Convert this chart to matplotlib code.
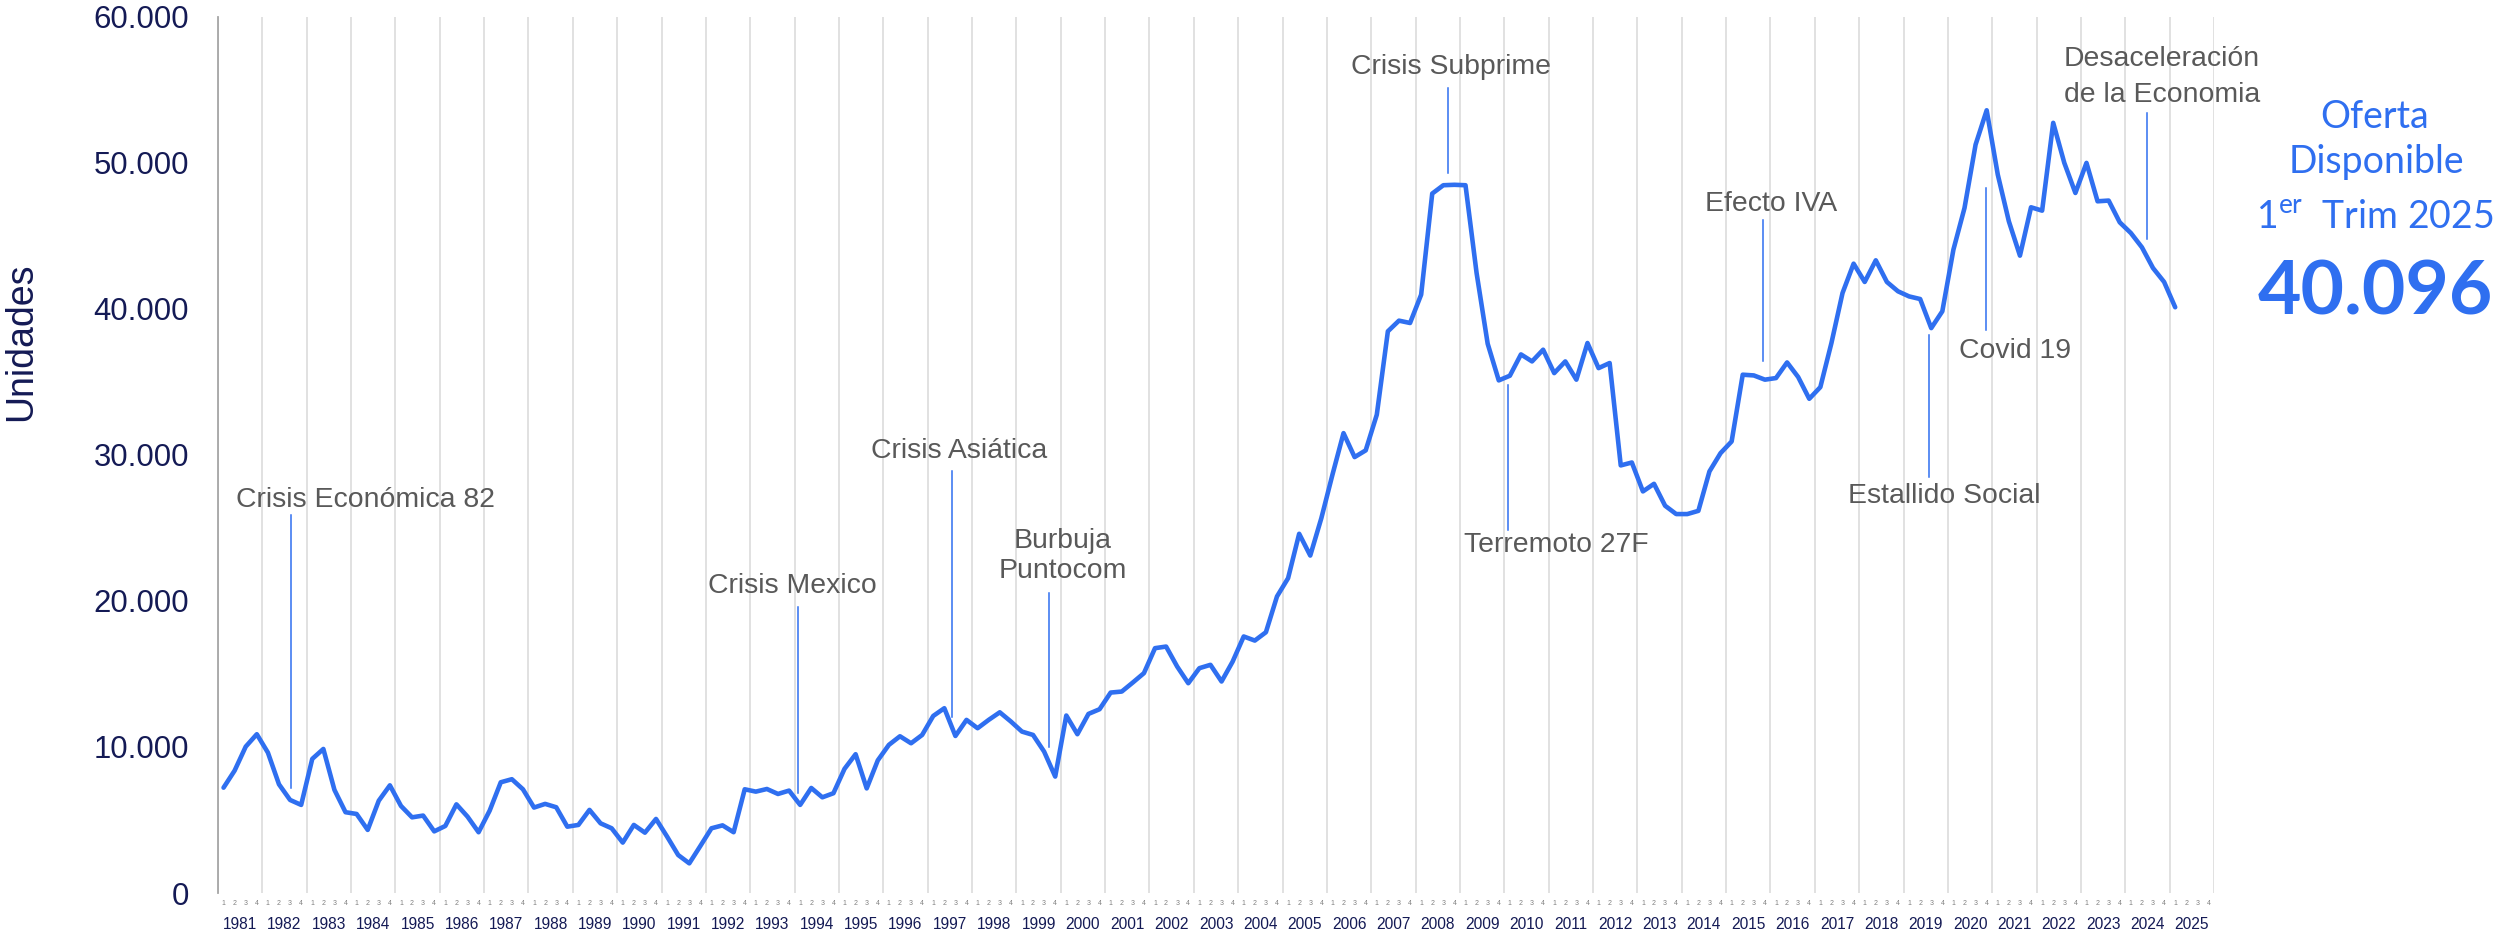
import matplotlib
matplotlib.use("Agg")
import matplotlib.pyplot as plt
from matplotlib import font_manager as fm
from matplotlib.ticker import FuncFormatter, FixedLocator

# ── Data ──────────────────────────────────────────────────────────────────────
years    = list(range(1981, 2026))
quarters = ["1", "2", "3", "4"]

# Oferta disponible (unidades), trimestral 1981 T1 .. 2025 T1
oferta = [
    7210, 8380, 10020, 10870,    # 1981
    9610, 7440, 6370, 6030,      # 1982
    9180, 9860, 7060, 5530,      # 1983
    5410, 4320, 6320, 7370,      # 1984
    5960, 5180, 5300, 4220,      # 1985
    4590, 6070, 5230, 4160,      # 1986
    5640, 7580, 7790, 7100,      # 1987
    5850, 6100, 5870, 4540,      # 1988
    4660, 5690, 4770, 4430,      # 1989
    3450, 4660, 4130, 5070,      # 1990
    3860, 2600, 2030, 3220,      # 1991
    4430, 4630, 4160, 7100,      # 1992
    6940, 7120, 6780, 7010,      # 1993
    6030, 7190, 6550, 6830,      # 1994
    8500, 9500, 7160, 9080,      # 1995
    10140, 10730, 10250, 10820,  # 1996
    12120, 12650, 10750, 11850,  # 1997
    11280, 11850, 12370, 11740,  # 1998
    11050, 10820, 9680, 7970,    # 1999
    12150, 10870, 12260, 12580,  # 2000
    13720, 13790, 14410, 15050,  # 2001
    16760, 16870, 15500, 14360,  # 2002
    15390, 15620, 14480, 15840,  # 2003
    17560, 17280, 17850, 20300,  # 2004
    21550, 24590, 23100, 25660,  # 2005
    28630, 31480, 29840, 30300,  # 2006
    32740, 38450, 39180, 39020,  # 2007
    40960, 47880, 48450, 48480,  # 2008
    48450, 42440, 37600, 35090,  # 2009
    35410, 36870, 36390, 37190,  # 2010
    35590, 36390, 35140, 37650,  # 2011
    35930, 36280, 29270, 29470,  # 2012
    27490, 28010, 26510, 25940,  # 2013
    25940, 26160, 28860, 30110,  # 2014
    30910, 35480, 35430, 35140,  # 2015
    35250, 36320, 35320, 33830,  # 2016
    34630, 37650, 41070, 43080,  # 2017
    41830, 43310, 41830, 41190,  # 2018
    40840, 40660, 38670, 39820,  # 2019
    44040, 46890, 51230, 53580,  # 2020
    49180, 45980, 43630, 46940,  # 2021
    46710, 52720, 49980, 47920,  # 2022
    49980, 47350, 47400, 45910,  # 2023
    45180, 44200, 42780, 41830,  # 2024
    40096,                       # 2025
]

events = ["Crisis Económica 82", "Crisis Mexico", "Crisis Asiática",
          "Burbuja\nPuntocom", "Crisis Subprime", "Terremoto 27F",
          "Efecto IVA", "Estallido Social", "Covid 19",
          "Desaceleración\nde la Economia"]

# ── Layout of the event callouts (quarter index / units) ─────────────────────
# (pointer x, pointer top, pointer bottom, text x, text y, linespacing)
event_layout = [
    (6.1,   25890, 7190,  12.8,  26920, 1.2),
    (51.8,  19590, 6850,  51.3,  21030, 1.2),
    (65.7,  28920, 12080, 66.3,  30290, 1.2),
    (74.4,  20520, 10020, 75.7,  23060, 1.2),
    (110.4, 55110, 49290, 110.7, 56550, 1.2),
    (115.8, 34790, 24860, 120.2, 23840, 1.2),
    (138.8, 46090, 36390, 139.6, 47190, 1.2),
    (153.8, 38220, 28510, 155.2, 27190, 1.2),
    (158.9, 48260, 38560, 161.6, 37070, 1.2),
    (173.5, 53400, 44750, 174.8, 55850, 1.47),
]

BLUE  = "#2f6ff0"
NAVY  = "#141a55"
GREY  = "#595959"

names = {f.name for f in fm.fontManager.ttflist}
has_narrow = "Liberation Sans Narrow" in names
NARROW = "Liberation Sans Narrow" if has_narrow else "Liberation Sans"

plt.rcParams["mathtext.fontset"] = "custom"
plt.rcParams["mathtext.rm"] = "Lato"

fig = plt.figure(figsize=(24.96, 9.33), dpi=100, facecolor="white")
ax = fig.add_axes([0.08734, 0.04287, 0.79968, 0.93944])

n_slots = len(years) * 4
ax.set_xlim(-0.5, n_slots - 0.5)
ax.set_ylim(0, 60000)

# year gridlines
for k in range(len(years) + 1):
    ax.axvline(-0.5 + 4 * k, color="#d9d9d9", lw=1.1, zorder=0)

ax.plot(range(len(oferta)), oferta, color=BLUE, lw=3.3,
        solid_joinstyle="round", solid_capstyle="round", zorder=3)

# callouts
for label, (px, top, bot, tx, ty, ls) in zip(events, event_layout):
    ax.plot([px, px], [bot, top], color=BLUE, lw=1.1, zorder=2)
    ax.text(tx, ty, label, ha="center", va="center", fontsize=20.4,
            color=GREY, family="Liberation Sans", linespacing=ls)

# spines / ticks
for s in ["top", "right", "bottom"]:
    ax.spines[s].set_visible(False)
ax.spines["left"].set_color("#a6a6a6")
ax.spines["left"].set_linewidth(1.3)

ax.yaxis.set_major_locator(FixedLocator(range(0, 60001, 10000)))
ax.yaxis.set_major_formatter(FuncFormatter(lambda v, p: f"{int(v):,}".replace(",", ".")))
ax.tick_params(axis="y", length=0, pad=21, labelsize=22.4, labelcolor=NAVY)
for lbl in ax.get_yticklabels():
    lbl.set_family("Liberation Sans")
ax.set_xticks([])

# quarter + year labels under the axis
year_size = 13.4 if has_narrow else 11.2
trans = ax.get_xaxis_transform()
for yi, yr in enumerate(years):
    for qi, q in enumerate(quarters):
        ax.text(4 * yi + qi, -0.0115, q, transform=trans, ha="center", va="center",
                fontsize=5, color="#808080", family="Liberation Sans", clip_on=False)
    ax.text(4 * yi + 1.5, -0.0354, str(yr), transform=trans, ha="center", va="center",
            fontsize=year_size, color=NAVY, family=NARROW, clip_on=False)

fig.text(0.0084, 0.6334, "Unidades", rotation=90, ha="center", va="center",
         fontsize=31 if has_narrow else 27, color=NAVY, family=NARROW)

# right side summary
fig.text(0.9515, 1 - 116.7 / 933, "Oferta", ha="center", va="center",
         fontsize=27, color=BLUE, family="Lato")
fig.text(0.9522, 1 - 161.7 / 933, "Disponible", ha="center", va="center",
         fontsize=27, color=BLUE, family="Lato")
fig.text(0.9515, 1 - 216.7 / 933, r"1$^{\mathrm{er}}$  Trim 2025", ha="center",
         va="center", fontsize=27, color=BLUE, family="Lato")
fig.text(0.9515, 1 - 293.3 / 933, "40.096", ha="center", va="center",
         fontsize=54, color=BLUE, family="Lato", fontweight="bold")

fig.savefig("out.png", dpi=100, facecolor="white")
